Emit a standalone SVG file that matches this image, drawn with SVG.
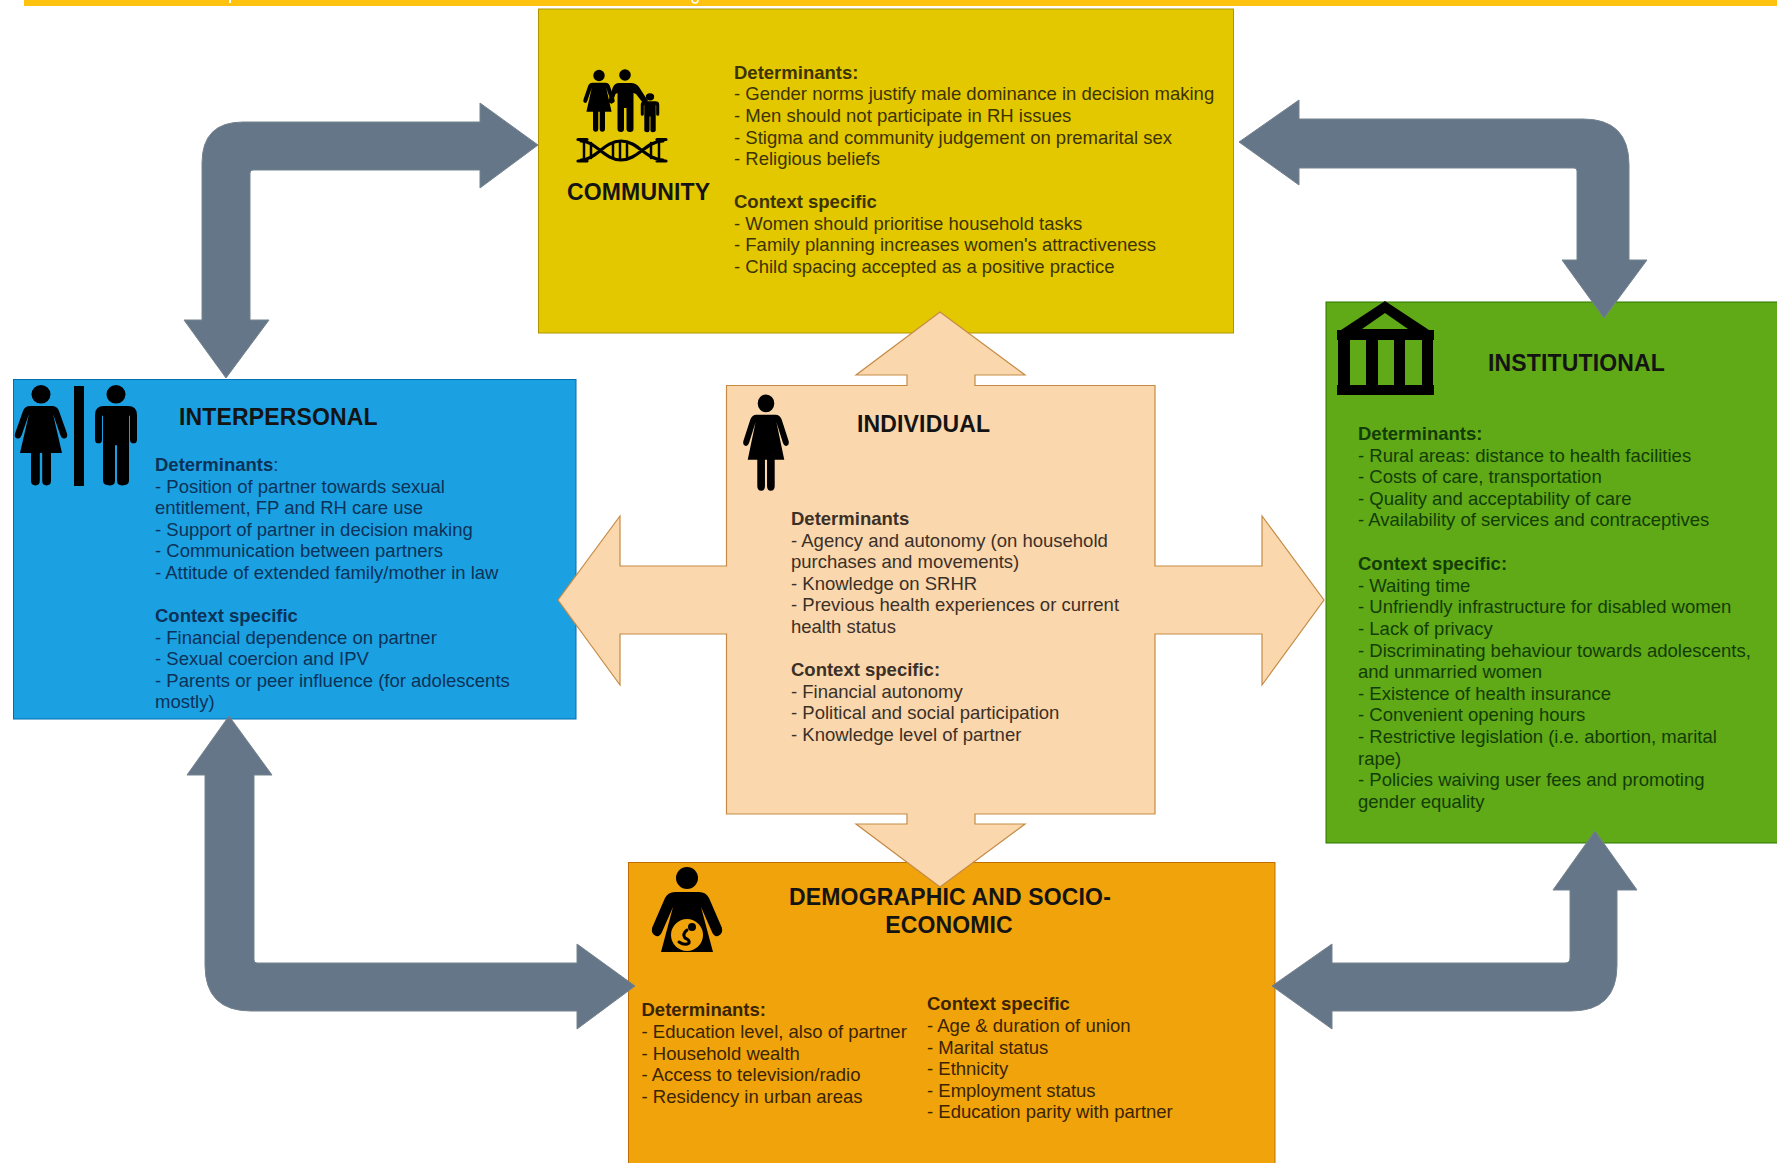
<svg xmlns="http://www.w3.org/2000/svg" width="1777" height="1163" viewBox="0 0 1777 1163">
<style>
text{font-family:"Liberation Sans",Arial,sans-serif;font-size:18.5px}
.h{font-weight:bold;font-size:23px;letter-spacing:.15px}
.s{font-weight:bold}
.box{stroke-width:1}
.arrow{fill:#647687;stroke:#75838f;stroke-width:1}
.ink{fill:#000}
.ln{fill:none;stroke:#000;stroke-linecap:round}
#community text{fill:#3c3300}
#interpersonal text{fill:#0c3258}
#institutional text{fill:#123d06}
#individual text{fill:#3a3028}
#demographic text{fill:#3a2402}
#community text.h,#interpersonal text.h,#institutional text.h,#individual text.h,#demographic text.h{fill:#141414}
</style>
<defs>
<g id="woman"><circle cx="0" cy="10" r="9.5"/><path d="M-11 22L11 22Q16 22 18 27L26 50Q27 54 24 55Q21 56 19.5 52L12 30L21 70L10 70L10 98Q10 103 5.5 103Q1.2 103 1.2 98L1.2 70L-1.2 70L-1.2 98Q-1.2 103-5.5 103Q-10 103-10 98L-10 70L-21 70L-12 30L-19.5 52Q-21 56-24 55Q-27 54-26 50L-18 27Q-16 22-11 22Z"/></g>
<g id="man"><circle cx="0" cy="10" r="9.5"/><path d="M-12 22L12 22Q21 22 21 31L21 56Q21 60 17.5 60Q14 60 14 56L14 32L13 32L13 98Q13 103 6 103Q1 103 1 98L1 62L-1 62L-1 98Q-1 103-6 103Q-13 103-13 98L-13 32L-14 32L-14 56Q-14 60-17.5 60Q-21 60-21 56L-21 31Q-21 22-12 22Z"/></g>
</defs>
<rect width="1777" height="1163" fill="#fff"/>
<g id="topbar"><rect x="24" y="0" width="1753" height="6" fill="#ffc20e"/><rect x="229" y="0" width="2" height="3" fill="#fff"/><path d="M692 0Q692 3 695 3Q698 3 698 0" fill="none" stroke="#fff" stroke-width="1.5"/></g>

<g id="community">
<rect class="box" x="538.500" y="9" width="695" height="324" fill="#e3c800" stroke="#b09500"/>
<use href="#woman" transform="translate(599 69.5) scale(.6 .605)"/>
<path class="ink" d="M619 83H631Q636 83 639 87L648 101L644.500 105L636 94L633.500 93V129Q633.500 132 630 132Q626.500 132 626.500 129V108H624V129Q624 132 621 132Q617.500 132 617.500 129V93L615.500 94L612 104L608 102L613 87Q615 83 619 83Z"/>
<circle cx="625" cy="75" r="5.800"/>
<use href="#man" transform="translate(650 93) scale(.44 .38)"/>
<path class="ln" stroke-width="3.200" d="M581 141C596 141 604 160 621 160C638 160 646 141 663 141M581 160C596 160 604 141 621 141C638 141 646 160 663 160M578 139.500H587M578 161H587M657 139.500H666M657 161H666"/>
<path class="ln" stroke-width="2.500" d="M584 141V159M591 143V158M613 144V157M620 142V159M627 144V157M651 143V158M659 141V159"/>
<text class="h" x="567" y="200">COMMUNITY</text>
<text class="s" x="734" y="79">Determinants:</text>
<text x="734" y="100.200">- Gender norms justify male dominance in decision making</text>
<text x="734" y="121.800">- Men should not participate in RH issues</text>
<text x="734" y="143.500">- Stigma and community judgement on premarital sex</text>
<text x="734" y="165">- Religious beliefs</text>
<text class="s" x="734" y="208">Context specific</text>
<text x="734" y="229.500">- Women should prioritise household tasks</text>
<text x="734" y="251">- Family planning increases women's attractiveness</text>
<text x="734" y="272.500">- Child spacing accepted as a positive practice</text>
</g>

<g id="interpersonal">
<rect class="box" x="13.500" y="379.500" width="562.500" height="339.500" fill="#1ba1e2" stroke="#006eaf"/>
<use href="#woman" transform="translate(41 384.500) scale(1 .98)"/>
<rect class="ink" x="74" y="386" width="10" height="100"/>
<use href="#man" transform="translate(116 384.500) scale(1 .98)"/>
<text class="h" x="179" y="425">INTERPERSONAL</text>
<text x="155" y="471"><tspan class="s">Determinants</tspan>:</text>
<text x="155" y="492.500">- Position of partner towards sexual</text>
<text x="155" y="514">entitlement, FP and RH care use</text>
<text x="155" y="535.500">- Support of partner in decision making</text>
<text x="155" y="557">- Communication between partners</text>
<text x="155" y="578.500">- Attitude of extended family/mother in law</text>
<text class="s" x="155" y="622">Context specific</text>
<text x="155" y="643.500">- Financial dependence on partner</text>
<text x="155" y="665">- Sexual coercion and IPV</text>
<text x="155" y="686.500">- Parents or peer influence (for adolescents</text>
<text x="155" y="708">mostly)</text>
</g>

<g id="institutional">
<rect class="box" x="1326" y="302" width="460" height="541" fill="#60a917" stroke="#2d7600"/>
<path class="ink" fill-rule="evenodd" d="M1385 301L1429 330H1434V340H1433V385H1434V395H1337V385H1338V340H1337V330H1341ZM1385 313L1362 329H1408ZM1350 340V385H1366V340ZM1378 340V385H1394V340ZM1405 340V385H1422V340Z"/>
<text class="h" x="1488" y="371">INSTITUTIONAL</text>
<text class="s" x="1358" y="440">Determinants:</text>
<text x="1358" y="461.500">- Rural areas: distance to health facilities</text>
<text x="1358" y="483">- Costs of care, transportation</text>
<text x="1358" y="504.500">- Quality and acceptability of care</text>
<text x="1358" y="526">- Availability of services and contraceptives</text>
<text class="s" x="1358" y="570">Context specific:</text>
<text x="1358" y="591.500">- Waiting time</text>
<text x="1358" y="613">- Unfriendly infrastructure for disabled women</text>
<text x="1358" y="634.500">- Lack of privacy</text>
<text x="1358" y="656.500">- Discriminating behaviour towards adolescents,</text>
<text x="1358" y="678">and unmarried women</text>
<text x="1358" y="699.500">- Existence of health insurance</text>
<text x="1358" y="721">- Convenient opening hours</text>
<text x="1358" y="742.500">- Restrictive legislation (i.e. abortion, marital</text>
<text x="1358" y="764.500">rape)</text>
<text x="1358" y="786">- Policies waiving user fees and promoting</text>
<text x="1358" y="807.500">gender equality</text>
</g>

<g id="demographic">
<rect class="box" x="628.500" y="862.500" width="646.500" height="310" fill="#f0a30a" stroke="#bd7000"/>
<circle class="ink" cx="687" cy="878" r="11"/>
<path class="ink" d="M675 892H699Q706 892 709 898L722 928Q723 934 718 936Q714 937 712 932L701 907L713 952H661L673 907L662 932Q660 937 656 936Q651 934 652 928L665 898Q668 892 675 892Z"/>
<circle cx="687" cy="935" r="16" fill="#f0a30a"/>
<circle class="ink" cx="692" cy="927" r="4"/>
<path class="ln" stroke-width="3" d="M687 930Q682 934 685 938Q690 940 689 943Q685 946 679 942"/>
<text class="h" x="950" y="905" text-anchor="middle">DEMOGRAPHIC AND SOCIO-</text>
<text class="h" x="949" y="932.500" text-anchor="middle">ECONOMIC</text>
<text class="s" x="641.500" y="1015.500">Determinants:</text>
<text x="641.500" y="1037.500">- Education level, also of partner</text>
<text x="641.500" y="1059.500">- Household wealth</text>
<text x="641.500" y="1080.500">- Access to television/radio</text>
<text x="641.500" y="1102.500">- Residency in urban areas</text>
<text class="s" x="927" y="1009.500">Context specific</text>
<text x="927" y="1031.500">- Age &amp; duration of union</text>
<text x="927" y="1053.500">- Marital status</text>
<text x="927" y="1075">- Ethnicity</text>
<text x="927" y="1096.500">- Employment status</text>
<text x="927" y="1118">- Education parity with partner</text>
</g>

<g id="connectors">
<path class="arrow" d="M538 145L480 103V122H243Q202 122 202 163V320H184L226 378L269 320H250V173Q250 170 253 170H480V188Z"/>
<path class="arrow" d="M1239 142L1299 100V119H1583Q1629 119 1629 165V260H1647L1604 318L1562 260H1577V171Q1577 168 1574 168H1299V185Z"/>
<path class="arrow" d="M229 716L187 775H205V965Q205 1011 251 1011H577V1029L635 986L577 944V963H257Q254 963 254 960V775H272Z"/>
<path class="arrow" d="M1272 986L1332 944V963H1565Q1570 963 1570 958V890H1553L1595 831L1637 890H1617V965Q1617 1011 1571 1011H1332V1029Z"/>
</g>

<g id="individual">
<path d="M940 312L1025 375H975V385.500H1155V566H1262V516L1324 600L1262 685V634H1155V814H975V824H1025L940 887L856 824H907V814H726.500V634H620V685L558 600L620 516V566H726.500V385.500H907V375H856Z" fill="#fad7ac" stroke="#c58b45" stroke-width="1.200"/>
<use href="#woman" transform="translate(766 394) scale(.87 .94)"/>
<text class="h" x="857" y="432">INDIVIDUAL</text>
<text class="s" x="791" y="524.500">Determinants</text>
<text x="791" y="546.500">- Agency and autonomy (on household</text>
<text x="791" y="568">purchases and movements)</text>
<text x="791" y="589.500">- Knowledge on SRHR</text>
<text x="791" y="611">- Previous health experiences or current</text>
<text x="791" y="632.500">health status</text>
<text class="s" x="791" y="676">Context specific:</text>
<text x="791" y="697.500">- Financial autonomy</text>
<text x="791" y="719">- Political and social participation</text>
<text x="791" y="740.500">- Knowledge level of partner</text>
</g>
</svg>
